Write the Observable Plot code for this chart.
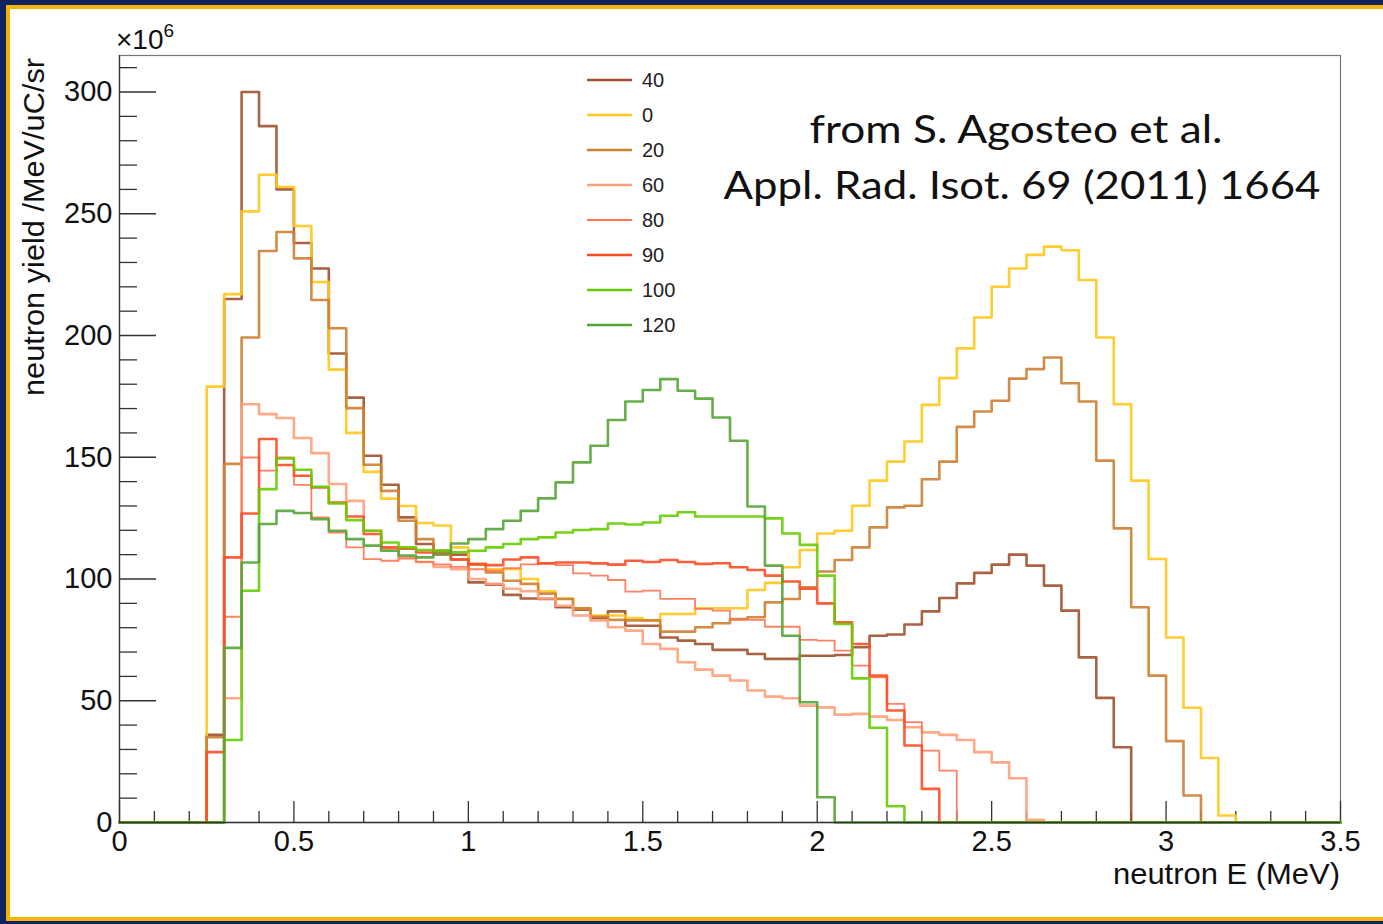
<!DOCTYPE html>
<html><head><meta charset="utf-8">
<script src="https://cdn.jsdelivr.net/npm/d3@7"></script>
<script src="https://cdn.jsdelivr.net/npm/@observablehq/plot@0.6"></script>
<style>
html,body{margin:0;padding:0;background:#fff;}
#wrap{position:relative;width:1383px;height:924px;background:#10235e;overflow:hidden;}
#gold{position:absolute;left:6px;top:5px;width:1400px;height:916px;background:#f5b400;}
#white{position:absolute;left:10px;top:9px;width:1400px;height:908px;background:#fff;}
#chart{position:absolute;left:0;top:0;}
#over{position:absolute;left:0;top:0;pointer-events:none;}
</style></head>
<body>
<div id="wrap"><div id="gold"></div><div id="white"></div><div id="chart"></div>
<svg id="over" width="1383" height="924"></svg></div>
<script>
// bin lower edges (MeV), bin width 0.05
const binLow = [0.25,0.30,0.35,0.40,0.45,0.50,0.55,0.60,0.65,0.70,
 0.75,0.80,0.85,0.90,0.95,1.00,1.05,1.10,1.15,1.20,
 1.25,1.30,1.35,1.40,1.45,1.50,1.55,1.60,1.65,1.70,
 1.75,1.80,1.85,1.90,1.95,2.00,2.05,2.10,2.15,2.20,
 2.25,2.30,2.35,2.40,2.45,2.50,2.55,2.60,2.65,2.70,
 2.75,2.80,2.85,2.90,2.95,3.00,3.05,3.10,3.15,3.20];
const xEnd = 3.5;

// neutron yield (x10^6 /MeV/uC/sr) per angle
const y40 = [36,215,300,286,260,238,227.5,192.6,174.5,150.6,
 138.7,125.3,114.4,111.6,110,98.6,97.7,93.5,92,91.8,
 88.4,87.4,84,86.7,80.8,80.8,76,74.7,73.3,70.9,
 70.9,69.2,67.2,67.2,68.5,68.5,68.8,72,76.7,77.2,
 81.3,86.7,92.2,98.2,102.5,105.9,110,105.5,97.3,87,
 67.8,51.2,30.9,0,0,0,0,0,0,0];
const y0 = [179,217,251,266,261,245,222,186,160,144,
 133,130,123,122,113,106,104,104,100,95,
 92,88,85,85,84,83,85.6,85.6,88,88,
 88,95.5,98.4,104.8,111.9,118.7,119.8,130.1,140.4,148.2,
 156.5,171.5,182.5,194.7,207.4,220,227.5,233.1,236.5,235,
 222.8,199.2,171.8,140.4,108.2,76,47.1,26.5,2.9,0];
const y20 = [35,147.3,199.2,234.7,242.5,231.7,214.6,203,170.2,146.9,
 136.2,123.9,116.4,110,108,106.2,102.7,99.3,98,94,
 91.8,88,84.5,83.2,83,83,78.4,78.4,80.2,81.8,
 83.6,84.3,90.4,91.8,96.6,103.1,107.8,113,121.2,129.4,
 130.1,141,148.2,162.5,168.8,173.2,182.3,186.2,191,180.4,
 172.9,148.6,120.8,88.4,60.3,33.4,11.1,0,0,0];
const y60 = [0,51,171.8,167.7,166.1,157.9,151.7,139,132.1,119.8,
 112.3,108.5,107,105,104,100,98,96,95,92,
 89,85,83,80.2,78.8,73.3,71.3,65.8,62.8,60.3,
 58.3,54.2,51.7,51,48,47.3,44.3,44.6,43.5,42.1,
 39.1,37,36,33.9,28.9,24.7,18.2,1.1,0,0,
 0,0,0,0,0,0,0,0,0,0];
const y80 = [0,84.5,149.9,144.5,149.9,138.7,125.3,119.1,113,108.2,
 107.5,108.5,107,106,105,104,103.4,104.5,106,106.4,
 105.7,102.3,101.4,99.6,94.8,95.2,91.8,91.8,87.7,87,
 83.2,83.2,80.4,80.4,75,74.7,70.6,64.4,59.6,48.7,
 41.2,29.5,21.3,0,0,0,0,0,0,0,
 0,0,0,0,0,0,0,0,0,0];
const y90 = [28.9,108.9,126.9,157.5,146.8,142.4,137.6,131.4,125.7,118.5,
 113,112.4,110.9,110.9,108,106,105.7,108,108.9,106.4,
 106.8,106.8,106.4,105.9,107.5,107,107.8,107,106.2,106.5,
 104.8,103.7,101.4,99,96,90,82.2,73.3,60.3,46,
 31.6,13.8,0,0,0,0,0,0,0,0,
 0,0,0,0,0,0,0,0,0,0];
const y100 = [0,33.9,95.2,136.9,149.5,144.9,137.9,131,124.2,119.8,
 115,113,111.9,111.6,111,111.6,113,114.4,116.4,117.1,
 119.1,120.1,120.5,122.8,122.4,123.2,126,127.4,125.7,125.7,
 125.7,125.7,124.9,118.7,114,101.4,81.5,59.2,38.9,6.7,
 0,0,0,0,0,0,0,0,0,0,
 0,0,0,0,0,0,0,0,0,0];
const y120 = [0,71.7,106.8,122.6,128,127.1,124.6,119.8,116.4,113.7,
 111.6,109.6,108.9,110.3,114.6,116.4,120.5,123.9,128,133.1,
 139.7,147.9,154.7,165.3,172.9,177.6,182.1,177.3,174.1,166.3,
 156.8,129.8,105.5,76.7,49.4,10.4,0,0,0,0,
 0,0,0,0,0,0,0,0,0,0,
 0,0,0,0,0,0,0,0,0,0];

const legendLabels = ["40","0","20","60","80","90","100","120"];
const seriesValues = [y40,y0,y20,y60,y80,y90,y100,y120];
const seriesColors = ["#a0522d","#ffc81a","#cd7f32","#ffa07a","#ff7350","#ff4d26","#66cc00","#55a535"];
const seriesWidths = [2.6,2.6,2.6,2.6,1.8,2.6,2.6,2.6];

const xMajor = [0,0.5,1,1.5,2,2.5,3,3.5];
const xMinor = [0.1,0.2,0.3,0.4,0.6,0.7,0.8,0.9,1.1,1.2,1.3,1.4,1.6,1.7,1.8,1.9,2.1,2.2,2.3,2.4,2.6,2.7,2.8,2.9,3.1,3.2,3.3,3.4];
const yMajor = [0,50,100,150,200,250,300];
const yMinor = [10,20,30,40,60,70,80,90,110,120,130,140,160,170,180,190,210,220,230,240,260,270,280,290,310];

function hist(vals, label){
  const pts = [{E:0, v:0, s:label}];
  binLow.forEach((e,i)=>pts.push({E:e, v:vals[i], s:label}));
  pts.push({E:xEnd, v:0, s:label});
  return pts;
}

const W=1383,H=924, mL=119, mR=43, mT=55, mB=102;
const fw = W-mL-mR, fh = H-mT-mB;

const marks = [
  Plot.frame({stroke:"#777", strokeWidth:1.2}),
  Plot.tickX(xMinor, {x:d=>d, insetTop: fh-11, stroke:"#333", strokeWidth:1.3}),
  Plot.tickX(xMajor, {x:d=>d, insetTop: fh-21, stroke:"#333", strokeWidth:1.3}),
  Plot.tickY(yMinor, {y:d=>d, insetRight: fw-18, stroke:"#333", strokeWidth:1.3}),
  Plot.tickY(yMajor, {y:d=>d, insetRight: fw-37, stroke:"#333", strokeWidth:1.3}),
  Plot.axisX({ticks:xMajor, tickSize:0, tickPadding:8, fontSize:29, tickFormat:d=>String(d), label:null}),
  Plot.axisY({ticks:yMajor, tickSize:0, tickPadding:7, fontSize:29, tickFormat:d=>String(d), label:null}),
];
seriesValues.forEach((vals,i)=>{
  marks.push(Plot.line(hist(vals, legendLabels[i]), {x:"E", y:"v", curve:"step-after",
    stroke: seriesColors[i], strokeWidth: seriesWidths[i], strokeOpacity:0.9}));
});
marks.push(Plot.ruleY([0], {stroke:"#333", strokeWidth:1.3}));
marks.push(Plot.ruleX([0], {stroke:"#333", strokeWidth:1.3}));

const chart = Plot.plot({
  width:W, height:H, marginLeft:mL, marginRight:mR, marginTop:mT, marginBottom:mB,
  x:{domain:[0,xEnd]}, y:{domain:[0,315]},
  style:{background:"transparent", fontFamily:"'Liberation Sans', Arial, sans-serif", color:"#111", overflow:"visible"},
  marks
});
document.getElementById("chart").appendChild(chart);

// overlay texts & legend
const svg = d3.select("#over");
const ff = "'Liberation Sans', Arial, sans-serif";
svg.append("text").attr("transform","translate(44,58) rotate(-90)").attr("text-anchor","end")
  .attr("font-family",ff).attr("font-size",29).attr("fill","#111")
  .attr("textLength",338).attr("lengthAdjust","spacingAndGlyphs").text("neutron yield /MeV/uC/sr");
svg.append("text").attr("x",1340).attr("y",884).attr("text-anchor","end")
  .attr("font-family",ff).attr("font-size",29).attr("fill","#111")
  .attr("textLength",227).attr("lengthAdjust","spacingAndGlyphs").text("neutron E (MeV)");
const t6 = svg.append("text").attr("x",116).attr("y",49).attr("font-family",ff).attr("font-size",28).attr("fill","#111");
t6.append("tspan").text("\u00d710");
t6.append("tspan").attr("dy",-12).attr("font-size",19).text("6");
const af = "Lato, 'Open Sans', sans-serif";
svg.append("text").attr("x",1016).attr("y",143).attr("text-anchor","middle").attr("font-family",af)
  .attr("font-size",38).attr("fill","#111").attr("textLength",413).attr("lengthAdjust","spacingAndGlyphs")
  .text("from S. Agosteo et al.");
svg.append("text").attr("x",1022).attr("y",199).attr("text-anchor","middle").attr("font-family",af)
  .attr("font-size",38).attr("fill","#111").attr("textLength",597).attr("lengthAdjust","spacingAndGlyphs")
  .text("Appl. Rad. Isot. 69 (2011) 1664");
legendLabels.forEach((lab,i)=>{
  const cy = 80 + 35*i;
  svg.append("line").attr("x1",587).attr("x2",632).attr("y1",cy).attr("y2",cy)
    .attr("stroke",seriesColors[i]).attr("stroke-width",seriesWidths[i]);
  svg.append("text").attr("x",642).attr("y",cy+7).attr("font-family",ff).attr("font-size",20)
    .attr("fill","#222").text(lab);
});
</script>
</body></html>
